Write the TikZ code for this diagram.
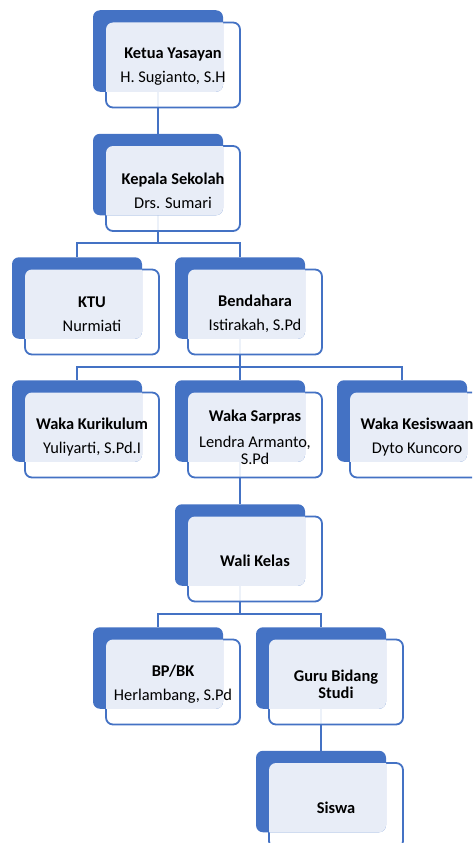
\documentclass[tikz,border=0pt]{standalone}
\usepackage{fontspec}
\setmainfont{Carlito}
\usetikzlibrary{backgrounds}
\definecolor{cbiru}{RGB}{68,114,196}

\begin{document}
\begin{tikzpicture}[y=1pt, x=1pt, yscale=-1, inner sep=0pt, outer sep=0pt,
  kotak/.style={draw=cbiru, line width=1.8pt, fill=white, fill opacity=0.9,
    rounded corners=7pt, minimum width=134pt, minimum height=85pt},
  lapis/.style={fill=white, fill opacity=0.88, rounded corners=7pt},
  blok/.style={fill=cbiru, rounded corners=7pt, minimum width=130pt, minimum height=81.5pt,
    path picture={\path[lapis] (#1.south west) rectangle (#1.north east);}},
  teks/.style={align=center, yshift=-2pt, font=\fontsize{16.4}{17}\selectfont},
  garis/.style={draw=cbiru, line width=1.8pt}]
  \useasboundingbox (0,0) rectangle (472,843);
  \clip (0,0) rectangle (472,843);

  % baris 1
  \node[kotak] (ketua-k) at (173,65) {};
  \node[blok=ketua-k] (ketua) at (158,51) {};
  \node[teks] (ketua-t) at (ketua-k) {\textbf{Ketua Yasayan}\\[7pt]H. Sugianto, S.H};
  % baris 2
  \node[kotak] (kepala-k) at (173,188.5) {};
  \node[blok=kepala-k] (kepala) at (158,174.5) {};
  \node[teks] (kepala-t) at (kepala-k) {\textbf{Kepala Sekolah}\\[7pt]Drs. Sumari};
  % baris 3
  \node[kotak] (ktu-k) at (92,312) {};
  \node[blok=ktu-k] (ktu) at (77,298) {};
  \node[teks] (ktu-t) at (ktu-k) {\textbf{KTU}\\[7pt]Nurmiati};
  \node[kotak] (bendahara-k) at (255,312) {};
  \node[blok=bendahara-k] (bendahara) at (240,298) {};
  \node[teks] (bendahara-t) at (bendahara-k) {\textbf{Bendahara}\\[7pt]Istirakah, S.Pd};
  % baris 4
  \node[kotak] (kurikulum-k) at (92,435) {};
  \node[blok=kurikulum-k] (kurikulum) at (77,421) {};
  \node[teks] (kurikulum-t) at (kurikulum-k) {\textbf{Waka Kurikulum}\\[7pt]Yuliyarti, S.Pd.I};
  \node[kotak] (sarpras-k) at (255,435) {};
  \node[blok=sarpras-k] (sarpras) at (240,421) {};
  \node[teks] (sarpras-t) at (sarpras-k) {\textbf{Waka Sarpras}\\[9pt]Lendra Armanto,\\S.Pd};
  \node[kotak] (kesiswaan-k) at (417,435) {};
  \node[blok=kesiswaan-k] (kesiswaan) at (402,421) {};
  \node[teks] (kesiswaan-t) at (kesiswaan-k) {\textbf{Waka Kesiswaan}\\[7pt]Dyto Kuncoro};
  % baris 5
  \node[kotak] (walikelas-k) at (255,559) {};
  \node[blok=walikelas-k] (walikelas) at (240,545) {};
  \node[teks] (walikelas-t) at (walikelas-k) {\textbf{Wali Kelas}};
  % baris 6
  \node[kotak] (bpbk-k) at (173,682) {};
  \node[blok=bpbk-k] (bpbk) at (158,668) {};
  \node[teks] (bpbk-t) at (bpbk-k) {\textbf{BP/BK}\\[7pt]Herlambang, S.Pd};
  \node[kotak] (guru-k) at (336,682) {};
  \node[blok=guru-k] (guru) at (321,668) {};
  \node[teks] (guru-t) at (guru-k) {\textbf{Guru Bidang}\\\textbf{Studi}};
  % baris 7
  \node[kotak] (siswa-k) at (336,805.5) {};
  \node[blok=siswa-k] (siswa) at (321,791.5) {};
  \node[teks] (siswa-t) at (siswa-k) {\textbf{Siswa}};

  % garis penghubung
  \begin{pgfonlayer}{background}
    \draw[garis] (ketua.south) -- (kepala.north);
    \draw[garis] (kepala.south) -- ++(0,28) -| (ktu.north);
    \draw[garis] (kepala.south) -- ++(0,28) -| (bendahara.north);
    \draw[garis] (bendahara.south) -- ++(0,28) -| (kurikulum.north);
    \draw[garis] (bendahara.south) -- ++(0,28) -| (sarpras.north);
    \draw[garis] (bendahara.south) -- ++(0,28) -| (kesiswaan.north);
    \draw[garis] (sarpras.south) -- (walikelas.north);
    \draw[garis] (walikelas.south) -- ++(0,28) -| (bpbk.north);
    \draw[garis] (walikelas.south) -- ++(0,28) -| (guru.north);
    \draw[garis] (guru.south) -- (siswa.north);
  \end{pgfonlayer}
\end{tikzpicture}
\end{document}
